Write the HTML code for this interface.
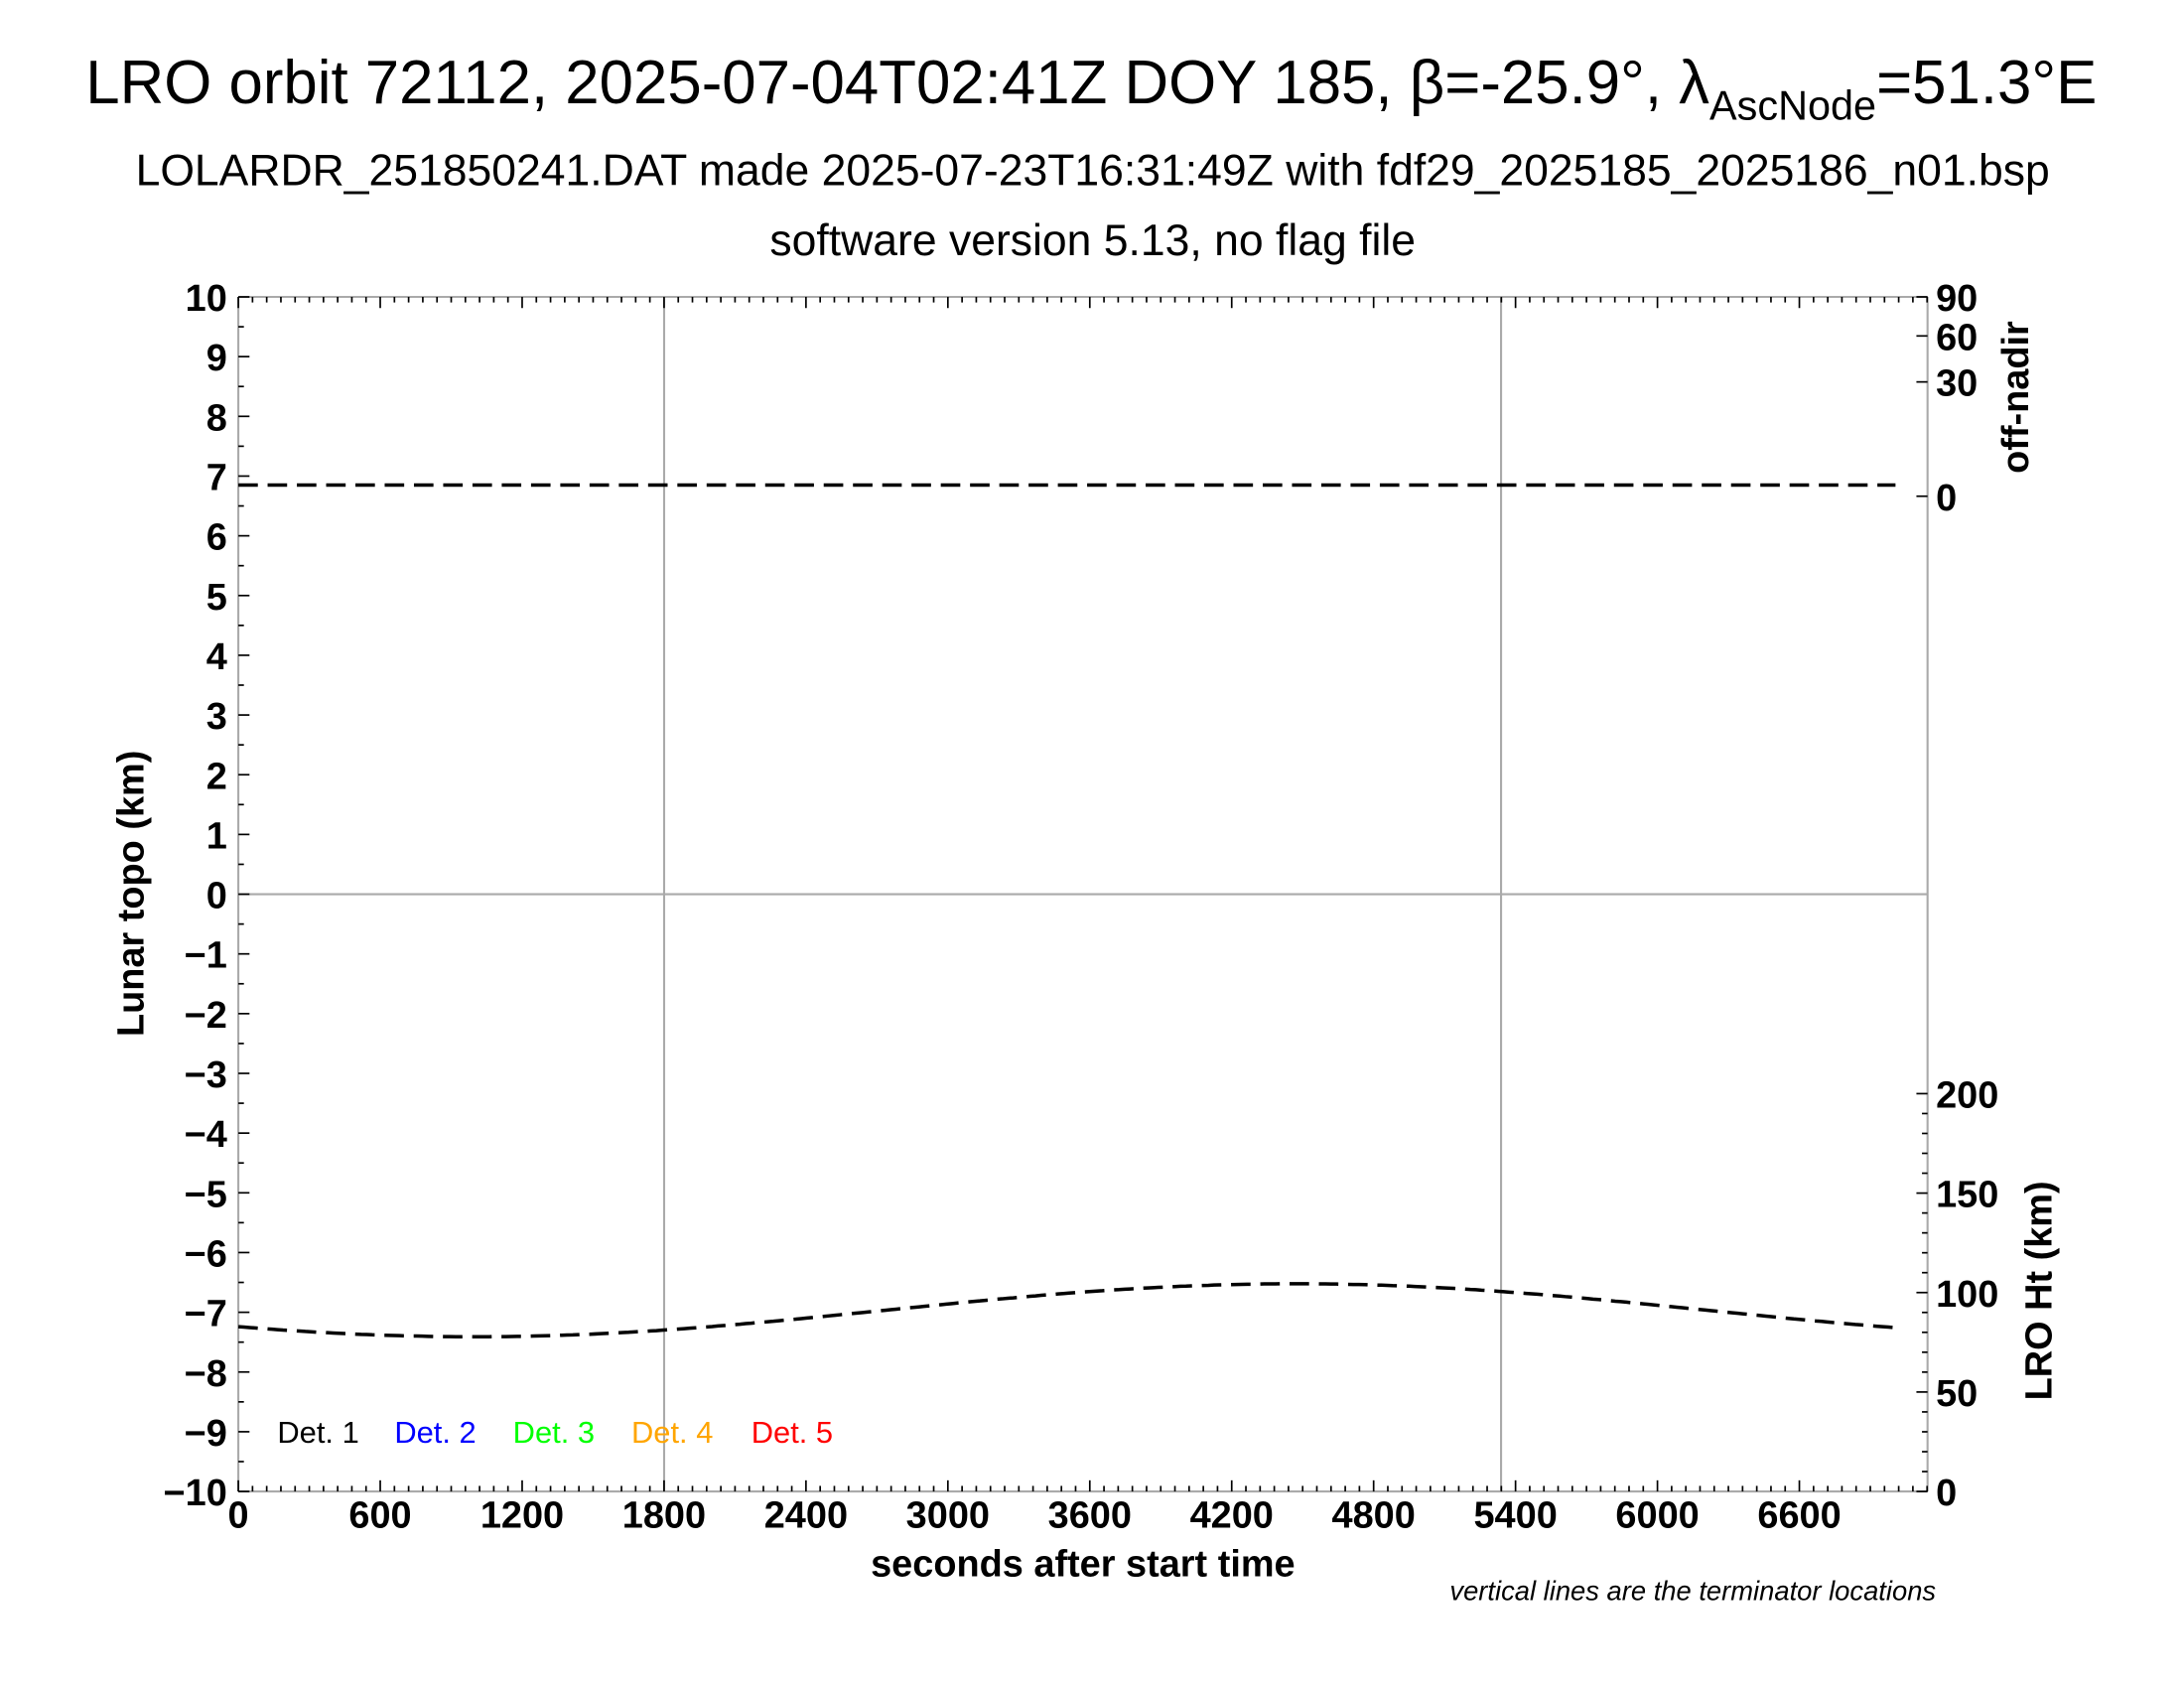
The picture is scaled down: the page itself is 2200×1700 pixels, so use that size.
<!DOCTYPE html>
<html><head><meta charset="utf-8"><style>
html,body{margin:0;padding:0;background:#fff;}
svg{display:block;}
text{font-family:"Liberation Sans",Arial,sans-serif;}
</style></head><body>
<svg width="2200" height="1700" viewBox="0 0 1567 1211" preserveAspectRatio="none" xmlns="http://www.w3.org/2000/svg">
<rect width="1567" height="1211" fill="#fff"/>
<text x="783" y="74" font-size="44" text-anchor="middle">LRO orbit 72112, 2025-07-04T02:41Z DOY 185, β=-25.9°, λ<tspan font-size="29.5" dy="12">AscNode</tspan><tspan dy="-12">=51.3°E</tspan></text>
<text x="784" y="133" font-size="31.7" text-anchor="middle">LOLARDR_251850241.DAT made 2025-07-23T16:31:49Z with fdf29_2025185_2025186_n01.bsp</text>
<text x="784" y="183" font-size="31.7" text-anchor="middle">software version 5.13, no flag file</text>
<g stroke="#aaa" stroke-width="1.5">
<line x1="476.5" y1="213" x2="476.5" y2="1070"/>
<line x1="1077" y1="213" x2="1077" y2="1070"/>
<line x1="171" y1="641.5" x2="1383" y2="641.5"/>
<line x1="171" y1="213" x2="1383" y2="213"/>
<line x1="171" y1="1070" x2="1383" y2="1070"/>
<line x1="171" y1="213" x2="171" y2="1070"/>
<line x1="1383" y1="213" x2="1383" y2="1070"/>
</g>
<g id="ticks" stroke="#000" stroke-width="1.2"></g>
<g id="labels" font-size="27" font-weight="bold"></g>
<path id="c1" fill="none" stroke="#000" stroke-width="2.5" stroke-dasharray="14,7"/>
<path id="c2" fill="none" stroke="#000" stroke-width="2.5" stroke-dasharray="14,7"/>
<text transform="translate(103,641) rotate(-90)" font-size="27" font-weight="bold" text-anchor="middle">Lunar topo (km)</text>
<text transform="translate(1455,285) rotate(-90)" font-size="27" font-weight="bold" text-anchor="middle">off-nadir</text>
<text transform="translate(1472,926) rotate(-90)" font-size="27" font-weight="bold" text-anchor="middle">LRO Ht (km)</text>
<text x="777" y="1131" font-size="27" font-weight="bold" text-anchor="middle">seconds after start time</text>
<text x="1389" y="1148" font-size="19.5" font-style="italic" text-anchor="end">vertical lines are the terminator locations</text>
<g font-size="22">
<text x="199" y="1035" fill="#000">Det. 1</text>
<text x="283" y="1035" fill="#0000ff">Det. 2</text>
<text x="368" y="1035" fill="#00ff00">Det. 3</text>
<text x="453" y="1035" fill="#ffa500">Det. 4</text>
<text x="539" y="1035" fill="#ff0000">Det. 5</text>
</g>
</svg>
<script>
(function(){
var ns="http://www.w3.org/2000/svg";
var T=document.getElementById("ticks"),L=document.getElementById("labels");
function ln(a,b,c,d){var e=document.createElementNS(ns,"line");e.setAttribute("x1",a);e.setAttribute("y1",b);e.setAttribute("x2",c);e.setAttribute("y2",d);T.appendChild(e);}
function tx(x,y,s,anc){var e=document.createElementNS(ns,"text");e.setAttribute("x",x);e.setAttribute("y",y);e.setAttribute("text-anchor",anc);e.textContent=s;L.appendChild(e);}
var X=function(s){return 171+s*0.16970;};
var Y=function(k){return 641.5-k*42.85;};
for(var s=0;s<=7140;s+=60){var x=X(s);var maj=s%600==0;var l=maj?8:4;ln(x,1070,x,1070-l);ln(x,213,x,213+l);}
for(var s=0;s<=6600;s+=600){tx(X(s),1096,String(s),"middle");}
for(var k=-10;k<=10;k+=0.5){var y=Y(k);var l=(k%1==0)?8:4;ln(171,y,171+l,y);}
for(var k=-10;k<=10;k++){tx(163,Y(k)+10,(k<0?"\u2212"+(-k):String(k)),"end");}
for(var h=0;h<=200;h+=10){var y=1070-h*1.427;var l=(h%50==0)?8:4;ln(1383,y,1383-l,y);}
[0,50,100,150,200].forEach(function(h){tx(1389,1070-h*1.427+10,String(h),"start");});
[[90,213],[60,241],[30,274],[0,356]].forEach(function(p){ln(1383,p[1],1375,p[1]);tx(1389,p[1]+10,String(p[0]),"start");});
document.getElementById("c1").setAttribute("d","M171,348 L1360,348");
var d="";for(var x=171;x<=1360;x+=4){var y=940+19*Math.cos(2*Math.PI*(x-340)/1180);d+=(x==171?"M":"L")+x+","+y.toFixed(1)+" ";}
document.getElementById("c2").setAttribute("d",d);
})();
</script>
</body></html>
